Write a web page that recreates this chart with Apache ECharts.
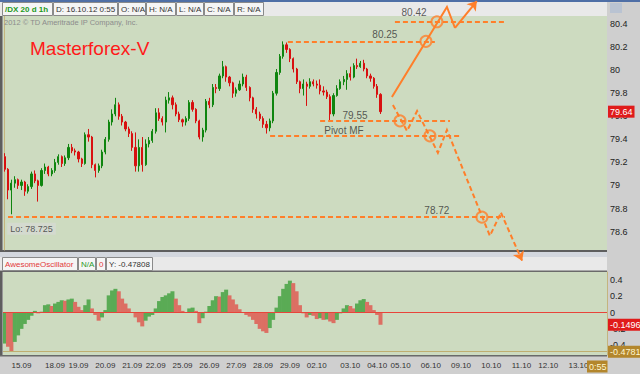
<!DOCTYPE html>
<html><head><meta charset="utf-8">
<script src="https://cdn.jsdelivr.net/npm/echarts@6/dist/echarts.min.js"></script>
<style>html,body{margin:0;padding:0;background:#cfcfcf}#c{width:640px;height:374px}</style>
</head><body><div id="c"></div>
<script>
// ---------- DATA ----------
const dayLabels = ['', '15.09','18.09','19.09','20.09','21.09','22.09','25.09','26.09','27.09','28.09','29.09','02.10','03.10','04.10','05.10','06.10','09.10','10.10','11.10','12.10','13.10'];
const daySlots  = [5, 10, 7, 8, 8, 7, 8, 8, 8, 8, 8, 8, 10, 8, 7, 9, 9, 9, 9, 8, 9, 9];

// [open, close, low, high]
const candles = [
[79.25,79.14,79.12,79.28],[79.14,78.96,78.88,79.15],[78.96,79.02,78.75,79.05],[79.02,79.05,78.98,79.08],
[79.05,79.00,78.97,79.06],[79.00,79.03,78.96,79.05],[79.03,78.95,78.91,79.04],[78.95,78.99,78.93,79.01],
[78.99,79.10,78.97,79.12],[79.10,79.04,79.02,79.13],[79.04,79.00,78.86,79.05],[79.00,79.13,78.99,79.15],
[79.13,79.16,79.10,79.19],[79.16,79.10,79.08,79.17],[79.10,79.13,79.08,79.15],[79.13,79.20,79.11,79.23],
[79.20,79.25,79.18,79.27],[79.25,79.19,79.16,79.26],[79.19,79.24,79.17,79.26],[79.24,79.33,79.22,79.36],
[79.33,79.30,79.28,79.36],[79.30,79.29,79.26,79.32],[79.29,79.23,79.20,79.30],[79.23,79.19,79.16,79.24],
[79.19,79.44,79.18,79.46],[79.44,79.42,79.38,79.49],[79.42,79.18,79.15,79.43],[79.18,79.13,79.07,79.19],
[79.13,79.17,79.11,79.19],[79.17,79.29,79.15,79.31],[79.29,79.40,79.27,79.42],[79.40,79.55,79.38,79.57],
[79.55,79.62,79.52,79.66],[79.62,79.70,79.60,79.76],[79.70,79.60,79.57,79.72],[79.60,79.55,79.52,79.62],
[79.55,79.49,79.47,79.56],[79.49,79.45,79.42,79.51],[79.45,79.33,79.30,79.47],[79.33,79.17,79.12,79.46],
[79.17,79.33,79.12,79.40],[79.33,79.18,79.12,79.42],[79.18,79.36,79.17,79.40],[79.36,79.39,79.33,79.42],
[79.39,79.47,79.37,79.49],[79.47,79.63,79.45,79.67],[79.63,79.58,79.56,79.67],[79.58,79.55,79.52,79.60],
[79.55,79.74,79.46,79.77],[79.74,79.76,79.71,79.81],[79.76,79.70,79.66,79.78],[79.70,79.62,79.60,79.72],
[79.62,79.57,79.55,79.64],[79.57,79.55,79.51,79.58],[79.55,79.58,79.52,79.60],[79.58,79.72,79.56,79.74],
[79.72,79.66,79.64,79.74],[79.66,79.56,79.54,79.67],[79.56,79.42,79.40,79.57],[79.42,79.48,79.38,79.50],
[79.48,79.73,79.46,79.75],[79.73,79.70,79.67,79.76],[79.70,79.85,79.68,79.88],[79.85,79.84,79.80,79.88],
[79.84,79.95,79.82,79.97],[79.95,80.03,79.93,80.08],[80.03,79.94,79.90,80.04],[79.94,79.89,79.86,79.95],
[79.89,79.80,79.76,79.90],[79.80,79.83,79.77,79.85],[79.83,79.88,79.82,79.91],[79.88,79.94,79.86,79.97],
[79.94,79.85,79.82,79.96],[79.85,79.76,79.73,79.86],[79.76,79.66,79.63,79.77],[79.66,79.62,79.58,79.68],
[79.62,79.58,79.56,79.64],[79.58,79.53,79.50,79.60],[79.53,79.50,79.45,79.56],[79.50,79.56,79.47,79.58],
[79.56,79.80,79.54,79.82],[79.80,79.98,79.78,80.01],[79.98,80.12,79.96,80.14],[80.12,80.22,80.10,80.25],
[80.22,80.18,80.15,80.24],[80.18,80.10,80.07,80.19],[80.10,80.01,79.98,80.11],[80.01,79.90,79.88,80.02],
[79.90,79.84,79.80,79.91],[79.84,79.88,79.78,79.92],[79.88,79.86,79.69,79.90],[79.86,79.90,79.84,79.93],
[79.90,79.88,79.86,79.92],[79.88,79.87,79.84,79.91],[79.87,79.82,79.79,79.92],[79.82,79.81,79.78,79.86],
[79.81,79.77,79.75,79.83],[79.77,79.62,79.56,79.79],[79.62,79.78,79.60,79.80],[79.78,79.84,79.77,79.87],
[79.84,79.90,79.83,79.92],[79.90,79.92,79.87,79.95],[79.92,79.97,79.83,80.00],[79.97,79.94,79.91,80.03],
[79.94,80.04,79.93,80.06],[80.04,80.03,80.01,80.10],[80.03,80.06,80.02,80.08],[80.06,80.01,79.99,80.09],
[80.01,79.95,79.93,80.02],[79.95,79.93,79.90,79.97],[79.93,79.86,79.84,79.94],[79.86,79.79,79.76,79.88],
[79.79,79.64,79.62,79.80]
];

const aoValues = [
-0.38,-0.42,-0.478,-0.36,-0.28,-0.20,-0.14,-0.09,-0.04,0.02,
-0.01,0.01,0.09,0.10,0.08,0.11,0.13,0.15,0.145,0.16,
0.17,0.13,0.07,0.03,0.09,0.16,0.05,-0.03,-0.10,-0.06,
0.03,0.21,0.27,0.29,0.26,0.17,0.11,0.05,-0.005,-0.06,
-0.12,-0.17,-0.10,-0.05,-0.03,0.05,0.14,0.19,0.21,0.235,
0.26,0.17,0.09,0.02,-0.005,0.05,0.06,0.02,-0.13,-0.07,
0.01,0.08,0.15,0.20,0.195,0.25,0.28,0.21,0.16,0.10,
0.04,-0.005,-0.03,-0.05,-0.09,-0.14,-0.20,-0.23,-0.25,-0.19,
-0.09,0.06,0.20,0.29,0.35,0.39,0.36,0.26,0.09,-0.01,
-0.06,-0.03,-0.04,-0.08,-0.07,-0.09,-0.085,-0.11,-0.13,-0.09,
-0.01,0.05,0.09,0.08,0.05,0.11,0.15,0.165,0.13,0.09,
0.03,-0.03,-0.15
];

const lastPrice = 79.64;
const lastAO = -0.1496;
const aoLow = -0.4781;
const priceTicks = [78.6,78.8,79,79.2,79.4,79.6,79.8,80,80.2,80.4];
const aoTicks = [0.4,0.2,0,-0.2,-0.4];

// forecast annotations (x in slot units, y in price)
const levelPrices = [80.42, 80.25, 79.56, 79.43, 78.725];
const levelFrom   = [116.3, 84.4, 94.0, 79.1, 1.0];
const levelTo     = [149.1, 128.2, 132.7, 136.3, 149.1];
const upPathX   = [115.4, 131.8, 134.2, 140.7];
const upPathY   = [79.768, 80.548, 80.366, 80.600];
const downPathX = [115.7, 119.9, 122.9, 129.1, 131.8, 144.6, 147.9, 154.2];
const downPathY = [79.698, 79.473, 79.646, 79.283, 79.482, 78.563, 78.763, 78.347];
const circleX = [125.54, 128.82, 117.8, 126.73, 142.23];
const circleY = [80.25, 80.42, 79.56, 79.43, 78.725];
const noteText = ['80.42', '80.25', '79.55', 'Pivot MF', '78.72'];
const noteX = [122.0, 113.3, 104.4, 101.1, 128.8];
const noteY = [80.504, 80.309, 79.603, 79.477, 78.780];
const lowNote = ['Lo: 78.725', 8.0, 78.624];

// ---------- CHART ----------
const FONT = 'Liberation Sans, Arial, sans-serif';
const ORANGE = '#ff7f2a';
const UP = '#0f850f', DOWN = '#d81010';
const AO_UP = '#5aab55', AO_DOWN = '#dc6f63';
const BG = '#cddbc0';

const categories = [];
dayLabels.forEach((d, i) => { for (let j = 0; j < daySlots[i]; j++) categories.push((d || 'pre') + '|' + j); });
const S = categories.length;

const chart = echarts.init(document.getElementById('c'), null, {renderer: 'svg', width: 640, height: 374});

function cells(list, y0, h) {
  const out = [];
  list.forEach(c => {
    out.push({type: 'rect', z: 1, silent: true, shape: {x: c[0] + 0.5, y: y0 + 0.5, width: c[1] - c[0], height: h},
      style: {fill: '#f5f5f5', stroke: '#8a8a8a', lineWidth: 1}});
    out.push({type: 'text', z: 2, silent: true,
      style: {x: c[0] + 3, y: y0 + h / 2 + 1, text: c[2], fill: c[3], fontSize: 8, fontFamily: FONT,
        fontWeight: c[4] ? 'bold' : 'normal', verticalAlign: 'middle'}});
  });
  return out;
}
const headerCells = [[2,52,'/DX 20 d 1h','#1c9a1c',true],[53,117,'D: 16.10.12 0:55','#333'],[118,145,'O: N/A','#333'],
  [146,175,'H: N/A','#333'],[176,203,'L: N/A','#333'],[204,233,'C: N/A','#333'],[234,263,'R: N/A','#333']];
const oscCells = [[2,77,'AwesomeOscillator','#e23a3a'],[78,95,'N/A','#2a9a2a'],[96,105,'0','#e23a3a'],[106,152,'Y: -0.47808','#333']];

const graphics = [
  {type: 'rect', z: 0, silent: true, shape: {x: 0, y: 0, width: 640, height: 2}, style: {fill: '#4f6fa6'}},
  {type: 'rect', z: 0, silent: true, shape: {x: 0, y: 2, width: 607, height: 14}, style: {fill: '#e9e9e9'}},
  {type: 'rect', z: 0, silent: true, shape: {x: 610, y: 3, width: 12, height: 10}, style: {fill: '#b9c3d2'}},
  ...cells(headerCells, 2, 13),
  {type: 'text', z: 1, silent: true, style: {x: 4, y: 22.5, text: '2012 \u00A9 TD Ameritrade IP Company, Inc.', fill: '#8c8c8c',
    fontSize: 7.5, fontFamily: FONT, verticalAlign: 'middle'}},
  {type: 'text', z: 1, silent: true, style: {x: 30, y: 48, text: 'Masterforex-V', fill: '#ff1a1a',
    fontSize: 19, fontFamily: FONT, verticalAlign: 'middle'}},
  {type: 'rect', z: 0, silent: true, shape: {x: 0, y: 16, width: 2.5, height: 236}, style: {fill: '#5e5e5e'}},
  {type: 'rect', z: 0, silent: true, shape: {x: 0, y: 250, width: 607, height: 2}, style: {fill: '#5e5e5e'}},
  {type: 'rect', z: 0, silent: true, shape: {x: 0, y: 252, width: 607, height: 5}, style: {fill: '#d3d7de'}},
  {type: 'rect', z: 0, silent: true, shape: {x: 0, y: 257, width: 607, height: 14}, style: {fill: '#e9e9e9'}},
  ...cells(oscCells, 257, 13),
  {type: 'rect', z: 0, silent: true, shape: {x: 0, y: 270.5, width: 607, height: 1.5}, style: {fill: '#6a6a6a'}},
  {type: 'rect', z: 0, silent: true, shape: {x: 0, y: 271, width: 2.5, height: 85}, style: {fill: '#5e5e5e'}},
  {type: 'rect', z: 0, silent: true, shape: {x: 0, y: 355, width: 607, height: 1.5}, style: {fill: '#6a6a6a'}},
  {type: 'text', z: 50, silent: true, style: {x: 587, y: 366.5, text: '0:55', fill: '#fff6d0', backgroundColor: '#b3862c',
    padding: [2, 1, 1, 2], fontSize: 9, fontFamily: FONT, verticalAlign: 'middle'}}
];

const aoData = aoValues.map((v, i) => ({value: v, itemStyle: {color: (i === 0 || v > aoValues[i - 1]) ? AO_UP : AO_DOWN}}));

function pts(xs, ys) { return xs.map((x, i) => [x, ys[i]]); }
const upPts = pts(upPathX, upPathY);
const downPts = pts(downPathX, downPathY);

const boxLabel = (txt, bg, fg) => ({show: true, position: 'end', distance: 1, formatter: txt, backgroundColor: bg, color: fg,
  fontSize: 9, fontFamily: FONT, padding: [2, 2, 1, 2]});

const option = {
  animation: false,
  backgroundColor: '#cfcfcf',
  textStyle: {fontFamily: FONT},
  graphic: {elements: graphics},
  grid: [
    {left: 3, top: 16, width: 604, height: 234, show: true, backgroundColor: BG, borderWidth: 0},
    {left: 3, top: 272, width: 604, height: 83, show: true, backgroundColor: BG, borderWidth: 0}
  ],
  xAxis: [
    {type: 'category', gridIndex: 0, data: categories, axisLine: {show: false}, axisTick: {show: false},
      axisLabel: {show: false}, splitLine: {show: false}},
    {type: 'value', gridIndex: 0, min: -0.5, max: S - 0.5, show: false},
    {type: 'category', gridIndex: 1, data: categories, axisLine: {show: false}, axisTick: {show: false}, splitLine: {show: false},
      axisLabel: {interval: (idx, val) => val.endsWith('|0') && !val.startsWith('pre'), formatter: v => v.split('|')[0],
        fontSize: 8, color: '#333', margin: 6, fontFamily: FONT}}
  ],
  yAxis: [
    {type: 'value', gridIndex: 0, position: 'right', min: 78.44, max: 80.47, splitLine: {show: false},
      axisLine: {show: true, lineStyle: {color: '#c4b47e'}}, axisTick: {show: false},
      axisLabel: {customValues: priceTicks, fontSize: 9, color: '#222', margin: 3, fontFamily: FONT}},
    {type: 'value', gridIndex: 1, position: 'right', min: -0.52, max: 0.496, splitLine: {show: false},
      axisLine: {show: true, lineStyle: {color: '#c4b47e'}}, axisTick: {show: false},
      axisLabel: {customValues: aoTicks, fontSize: 9, color: '#222', margin: 3, fontFamily: FONT}}
  ],
  series: [
    {type: 'candlestick', xAxisIndex: 0, yAxisIndex: 0, data: candles, barWidth: '50%', z: 3,
      itemStyle: {color: UP, color0: DOWN, borderColor: UP, borderColor0: DOWN, borderWidth: 1},
      markLine: {silent: true, symbol: 'none', data: [{yAxis: lastPrice}],
        lineStyle: {color: 'rgba(0,0,0,0)', width: 1}, label: boxLabel('79.64', '#e01b1b', '#ffffff')}},
    {type: 'bar', xAxisIndex: 2, yAxisIndex: 1, data: aoData, barWidth: 4, z: 3,
      markLine: {silent: true, symbol: 'none', data: [
        {yAxis: 0, lineStyle: {color: '#e8443a', width: 1, type: 'solid'}, label: {show: false}},
        {yAxis: aoLow, lineStyle: {color: '#bfae70', width: 1, type: 'solid'}, label: boxLabel('-0.4781', '#b3862c', '#fff6d0')},
        {yAxis: lastAO, lineStyle: {color: 'rgba(0,0,0,0)', width: 1}, label: boxLabel('-0.1496', '#e01b1b', '#ffffff')}
      ]}},
    // horizontal forecast levels
    {type: 'lines', coordinateSystem: 'cartesian2d', xAxisIndex: 1, yAxisIndex: 0, clip: false, z: 6, silent: true,
      lineStyle: {color: ORANGE, width: 2, type: [5, 3], opacity: 1},
      data: levelPrices.map((p, i) => ({coords: [[levelFrom[i], p], [levelTo[i], p]]}))},
    // solid upward scenario
    {type: 'lines', coordinateSystem: 'cartesian2d', xAxisIndex: 1, yAxisIndex: 0, clip: false, z: 7, silent: true, polyline: true,
      lineStyle: {color: ORANGE, width: 2, opacity: 1}, data: [{coords: upPts.slice(0, -1)}]},
    {type: 'lines', coordinateSystem: 'cartesian2d', xAxisIndex: 1, yAxisIndex: 0, clip: false, z: 7, silent: true,
      symbol: ['none', 'arrow'], symbolSize: 9,
      lineStyle: {color: ORANGE, width: 2, opacity: 1}, data: [{coords: upPts.slice(-2)}]},
    // dashed downward scenario
    {type: 'lines', coordinateSystem: 'cartesian2d', xAxisIndex: 1, yAxisIndex: 0, clip: false, z: 7, silent: true, polyline: true,
      lineStyle: {color: ORANGE, width: 2, type: [5, 3], opacity: 1}, data: [{coords: downPts.slice(0, -1)}]},
    {type: 'lines', coordinateSystem: 'cartesian2d', xAxisIndex: 1, yAxisIndex: 0, clip: false, z: 7, silent: true,
      symbol: ['none', 'arrow'], symbolSize: 9,
      lineStyle: {color: ORANGE, width: 2, type: [5, 3], opacity: 1}, data: [{coords: downPts.slice(-2)}]},
    // target circles
    {type: 'scatter', xAxisIndex: 1, yAxisIndex: 0, clip: false, z: 8, silent: true, symbol: 'circle', symbolSize: 11,
      itemStyle: {color: 'rgba(0,0,0,0)', borderColor: ORANGE, borderWidth: 2}, data: pts(circleX, circleY)},
    // level captions
    {type: 'scatter', xAxisIndex: 1, yAxisIndex: 0, clip: false, z: 9, silent: true, symbolSize: 1,
      itemStyle: {color: 'rgba(0,0,0,0)'},
      label: {show: true, position: 'inside', formatter: p => p.data.name, color: '#333', fontSize: 10, fontFamily: FONT},
      data: noteText.map((t, i) => ({name: t, value: [noteX[i], noteY[i]]})).concat([
        {name: lowNote[0], value: [lowNote[1], lowNote[2]],
          label: {backgroundColor: '#d6d9d2', padding: [2, 3, 1, 3], fontSize: 9, color: '#333'}}])}
  ]
};
chart.setOption(option);
</script>
</body></html>
